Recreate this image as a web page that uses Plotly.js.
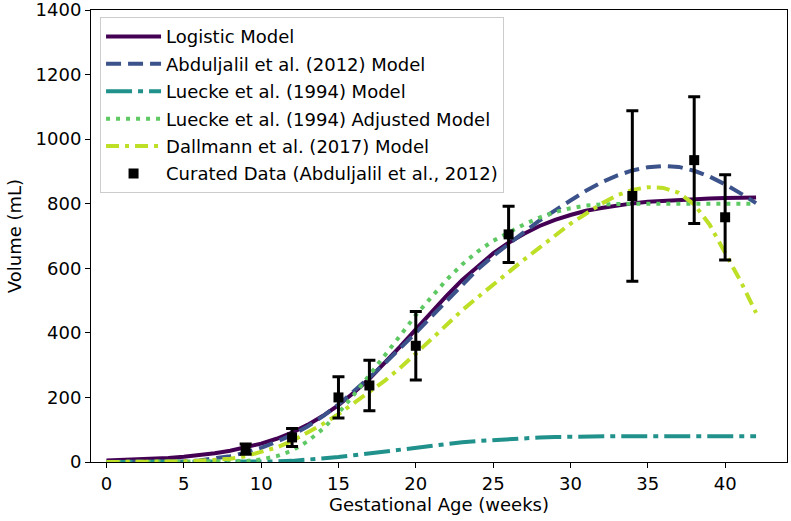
<!DOCTYPE html>
<html>
<head>
<meta charset="utf-8">
<script src="https://cdn.plot.ly/plotly-3.0.1.min.js"></script>
<style>html,body{margin:0;padding:0;background:#fff;}#chart{width:791px;height:521px;}</style>
</head>
<body>
<div id="chart"></div>
<script>
// Gestational age grid (weeks)
const weeks = [0,1,2,3,4,5,6,7,8,9,10,11,12,13,14,15,16,17,18,19,20,21,22,23,24,25,26,27,28,29,30,31,32,33,34,35,36,37,38,39,40,41,42];

// Model curves (mL)
const logisticModel = [4.5,5.8,7.6,9.8,12.6,16.3,21,27,35,44.5,57,72,91,115,143,176,215,258,306,358,411,464,515,564,607,646,679,707,731,750,765,778,787,795,801,806,809,812,814,816,817.5,818.5,819.3];
const abduljalilModel = [0,0,0,0,1,2,5,10,18,29,44,63,84,110,142,178,218,262,306,352,400,450,500,550,597,638,676,712,748,780,810,840,866,887,903,913,917,914,902,884,860,832,802];
const lueckeModel = [0,0,0,0,0,0,0,0,0.1,0.3,0.8,1.8,3.5,6.4,10.3,15.2,20.8,26.8,33,39.2,45.5,51.2,56.5,61.2,65.2,68.5,71.2,73.6,75.7,77.4,78.6,79.4,79.8,80,80,80,80,80,80,80,80,80,80];
const lueckeAdjusted = [0,0,0,0,0,0,0,0,1,3,8,18,35,64,103,152,208,268,330,392,455,512,565,612,652,685,712,736,757,774,786,794,798,800,800,800,800,800,800,800,800,800,800];
const dallmannModel = [0,0,0,0,1,2,4,6,10,18,30,45,65,90,118,148,182,215,252,292,334,380,425,470,510,550,588,627,664,702,738,769,800,826,843,851,849,834,798,735,650,560,462];

// Curated data (Abduljalil et al., 2012)
const dataWeeks = [9,12,15,17,20,26,34,38,40];
const dataVolume = [40,76,200,237,360,705,824,935,758];
const dataError = [16,28,64,78,106,87,264,196,132];

const seriesNames = ["Logistic Model","Abduljalil et al. (2012) Model","Luecke et al. (1994) Model","Luecke et al. (1994) Adjusted Model","Dallmann et al. (2017) Model","Curated Data (Abduljalil et al., 2012)"];

const traces = [
  {x: weeks, y: logisticModel, name: seriesNames[0], legendgroup: "g0", mode: "lines", line: {color: "#440154", width: 4}},
  {x: weeks, y: abduljalilModel, name: seriesNames[1], legendgroup: "g1", mode: "lines", line: {color: "#3b528b", width: 4, dash: "15px,7px"}},
  {x: weeks, y: lueckeModel, name: seriesNames[2], legendgroup: "g2", mode: "lines", line: {color: "#21918c", width: 4, dash: "26px,6px,5px,6px"}},
  {x: weeks, y: lueckeAdjusted, name: seriesNames[3], legendgroup: "g3", mode: "lines", line: {color: "#5ec962", width: 4, dash: "4px,6px"}},
  {x: weeks, y: dallmannModel, name: seriesNames[4], legendgroup: "g4", mode: "lines", line: {color: "#bddf26", width: 4, dash: "13px,6px,4px,6px"}},
  {x: dataWeeks, y: dataVolume, name: seriesNames[5], legendgroup: "g5", mode: "markers",
   marker: {color: "#000", symbol: "square", size: 10},
   error_y: {type: "data", array: dataError, visible: true, color: "#000", thickness: 3, width: 6}}
];

const layout = {
  width: 791, height: 521,
  margin: {l: 91, r: 4, t: 10, b: 59},
  paper_bgcolor: "#fff", plot_bgcolor: "#fff",
  font: {family: "DejaVu Sans, sans-serif", size: 18, color: "#000"},
  xaxis: {
    range: [-1, 44], tickvals: [0,5,10,15,20,25,30,35,40], ticks: "outside", ticklen: 5, tickwidth: 1, tickcolor: "#000",
    showline: true, linecolor: "#000", linewidth: 1, mirror: true, showgrid: false, zeroline: false,
    ticklabeloverflow: "allow",
    title: {text: "Gestational Age (weeks)", font: {size: 18}, standoff: 5}
  },
  yaxis: {
    range: [0, 1400], tickvals: [0,200,400,600,800,1000,1200,1400], ticks: "outside", ticklen: 5, tickwidth: 1, tickcolor: "#000",
    showline: true, linecolor: "#000", linewidth: 1, mirror: true, showgrid: false, zeroline: false,
    ticklabeloverflow: "allow",
    title: {text: "Volume (mL)", font: {size: 18}, standoff: 9}
  },
  legend: {
    x: 0.013, y: 0.984, xanchor: "left", yanchor: "top",
    bgcolor: "rgba(255,255,255,0.8)", bordercolor: "#cccccc", borderwidth: 1,
    font: {size: 18}, tracegroupgap: 1, itemwidth: 55
  },
  showlegend: true
};

Plotly.newPlot("chart", traces, layout, {displayModeBar: false, staticPlot: true});
</script>
</body>
</html>
